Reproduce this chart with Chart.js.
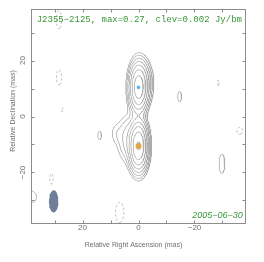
<!DOCTYPE html>
<html>
<head>
<meta charset="utf-8">
<script src="https://cdn.jsdelivr.net/npm/chart.js@4.4.1/dist/chart.umd.min.js"></script>
<style>
  html, body { margin: 0; padding: 0; background: #fff; }
  #wrap { width: 264px; height: 262px; }
</style>
</head>
<body>
<div id="wrap"><canvas id="vlbiMap" width="264" height="262"></canvas></div>
<script>
// ===== map data =====
const sourceName = 'J2355\u22122125';
const peakFlux = 0.27;
const lowestLevel = 0.002;
const obsDate = '2005\u221206\u221230';

// contour levels in Jy/beam, the negative one is dashed
const contourLevels = [-0.002, 0.002, 0.004, 0.008, 0.016, 0.032, 0.064, 0.128, 0.256];

// brightness components: RA / Dec offset (mas), peak (Jy/beam), gaussian widths (mas)
const compX    = [0.0,   0.0,   3.5,   8.0,  -1.5,   28.4,    28.4,    27.2,    13.9,   -14.7,  -28.5,   -36.2,   -29.8,  31.1,    38.5,   6.7];
const compY    = [10.4, -10.5, -8.0,  -6.0,  12.0,   34.5,    14.0,    2.4,     -6.8,   7.1,    12.0,    -5.1,    -16.9,  -22.3,   -28.7,  -34.3];
const compPeak = [0.20,  0.27,  0.012, 0.0025, 0.02, -0.0033, -0.0033, -0.0023, 0.0033, 0.0033, -0.0023, -0.0033, 0.0033, -0.0033, 0.0033, -0.0033];
const compSigX = [1.5,   1.5,   2.2,   1.5,   1.8,   0.9,     0.9,     0.5,     0.65,   0.7,    0.5,     1.0,     1.0,    0.6,     2.1,    1.5];
const compSigY = [4.0,   4.0,   4.5,   2.5,   4.0,   3.2,     2.7,     1.5,     1.5,    1.8,    2.0,     1.3,     3.4,    1.9,     2.1,    3.6];

// model-fit component markers
const markerX = [0.0, 0.0];
const markerY = [10.4, -10.5];
const markerColor = ['#5bb6ea', '#ffa500'];
const markerSize = [1.8, 3.0];

// restoring beam: centre (mas), FWHM major / minor (mas), position angle (deg)
const beamX = 30.3;
const beamY = -30.3;
const beamMajor = 7.9;
const beamMinor = 3.4;
const beamPA = 0;

// axes
const axisMin = -38.4;
const axisMax = 38.4;
const tickValues = [-30, -20, -10, 0, 10, 20, 30];
const tickLabels = [20, 0, -20];

// ===== brightness grid =====
function buildGrid() {
    const step = 0.25, x0 = -40, y0 = -40;
    const nx = Math.round(80 / step) + 1, ny = nx;
    const v = new Float64Array(nx * ny);
    for (let j = 0; j < ny; j++) {
        const y = y0 + j * step;
        for (let i = 0; i < nx; i++) {
            const x = x0 + i * step;
            let s = 0;
            for (let k = 0; k < compX.length; k++) {
                const dx = (x - compX[k]) / compSigX[k];
                const dy = (y - compY[k]) / compSigY[k];
                const r2 = dx * dx + dy * dy;
                if (r2 < 60) s += compPeak[k] * Math.exp(-0.5 * r2);
            }
            v[j * nx + i] = s;
        }
    }
    return { step, x0, y0, nx, ny, v };
}

// marching squares, joined into polylines
function traceContours(grid, level) {
    const { step, x0, y0, nx, ny, v } = grid;
    const nEdge = nx * ny;
    const px = new Float64Array(2 * nEdge);
    const py = new Float64Array(2 * nEdge);
    const link1 = new Int32Array(2 * nEdge).fill(-1);
    const link2 = new Int32Array(2 * nEdge).fill(-1);

    function edgePt(e, ia, ja, ib, jb) {
        const va = v[ja * nx + ia], vb = v[jb * nx + ib];
        const t = (level - va) / (vb - va);
        px[e] = x0 + (ia + t * (ib - ia)) * step;
        py[e] = y0 + (ja + t * (jb - ja)) * step;
    }
    function link(a, b) {
        if (link1[a] < 0) link1[a] = b; else link2[a] = b;
        if (link1[b] < 0) link1[b] = a; else link2[b] = a;
    }

    for (let j = 0; j < ny - 1; j++) {
        for (let i = 0; i < nx - 1; i++) {
            const a = v[j * nx + i], b = v[j * nx + i + 1];
            const c = v[(j + 1) * nx + i + 1], d = v[(j + 1) * nx + i];
            const A = a >= level, B = b >= level, C = c >= level, D = d >= level;
            const cut = [];
            if (A !== B) { const e = j * nx + i; edgePt(e, i, j, i + 1, j); cut.push(e); }
            if (B !== C) { const e = nEdge + j * nx + i + 1; edgePt(e, i + 1, j, i + 1, j + 1); cut.push(e); }
            if (D !== C) { const e = (j + 1) * nx + i; edgePt(e, i, j + 1, i + 1, j + 1); cut.push(e); }
            if (A !== D) { const e = nEdge + j * nx + i; edgePt(e, i, j, i, j + 1); cut.push(e); }
            if (cut.length === 2) {
                link(cut[0], cut[1]);
            } else if (cut.length === 4) {
                const mid = (a + b + c + d) / 4 >= level;
                if (mid === A) { link(cut[0], cut[1]); link(cut[2], cut[3]); }
                else { link(cut[0], cut[3]); link(cut[1], cut[2]); }
            }
        }
    }

    const used = new Uint8Array(2 * nEdge);
    const lines = [];
    function walk(start) {
        const pts = [];
        let cur = start, last = -1;
        while (cur >= 0 && !used[cur]) {
            used[cur] = 1;
            pts.push({ x: px[cur], y: py[cur] });
            last = cur;
            const n1 = link1[cur], n2 = link2[cur];
            cur = (n1 >= 0 && !used[n1]) ? n1 : ((n2 >= 0 && !used[n2]) ? n2 : -1);
        }
        if (pts.length > 2 && (link1[last] === start || link2[last] === start)) {
            pts.push({ x: px[start], y: py[start] });
        }
        if (pts.length > 1) lines.push(pts);
    }
    // open ends first, then closed loops
    for (let e = 0; e < 2 * nEdge; e++) {
        if (!used[e] && link1[e] >= 0 && link2[e] < 0) walk(e);
    }
    for (let e = 0; e < 2 * nEdge; e++) {
        if (!used[e] && link1[e] >= 0) walk(e);
    }
    return lines;
}

function beamOutline() {
    const pts = [];
    const pa = beamPA * Math.PI / 180;
    for (let k = 0; k <= 48; k++) {
        const t = k / 48 * 2 * Math.PI;
        const a = beamMinor / 2 * Math.cos(t), b = beamMajor / 2 * Math.sin(t);
        pts.push({ x: beamX + a * Math.cos(pa) + b * Math.sin(pa), y: beamY - a * Math.sin(pa) + b * Math.cos(pa) });
    }
    return pts;
}

// ===== frame, ticks and text =====
const mapFrame = {
    id: 'mapFrame',
    afterDraw(chart) {
        const ctx = chart.ctx;
        const area = chart.chartArea;
        const xs = chart.scales.x, ys = chart.scales.y;
        const L = Math.round(area.left) + 0.5, R = Math.round(area.right) - 0.5;
        const T = Math.round(area.top) + 0.5, B = Math.round(area.bottom) - 0.5;
        ctx.save();
        ctx.strokeStyle = '#8c8c8c';
        ctx.lineWidth = 1;
        ctx.strokeRect(L, T, R - L, B - T);

        // inward ticks on all four sides
        ctx.beginPath();
        tickValues.forEach(v => {
            const x = Math.round(xs.getPixelForValue(v)) + 0.5;
            ctx.moveTo(x, B); ctx.lineTo(x, B - 3);
            ctx.moveTo(x, T); ctx.lineTo(x, T + 3);
            const y = Math.round(ys.getPixelForValue(v)) + 0.5;
            ctx.moveTo(L, y); ctx.lineTo(L + 3, y);
            ctx.moveTo(R, y); ctx.lineTo(R - 3, y);
        });
        ctx.stroke();

        ctx.fillStyle = '#6e6e6e';
        ctx.font = '8px "Liberation Sans", Arial, sans-serif';
        ctx.textAlign = 'center';
        ctx.textBaseline = 'middle';
        tickLabels.forEach(v => {
            const txt = v < 0 ? '\u2212' + Math.abs(v) : String(v);
            ctx.fillText(txt, xs.getPixelForValue(v), 228);
            ctx.save();
            ctx.translate(23, ys.getPixelForValue(v));
            ctx.rotate(-Math.PI / 2);
            ctx.fillText(txt, 0, 0);
            ctx.restore();
        });

        ctx.font = '7px "Liberation Sans", Arial, sans-serif';
        ctx.fillText('Relative Right Ascension (mas)', 133.5, 245);
        ctx.save();
        ctx.translate(13.5, 111);
        ctx.rotate(-Math.PI / 2);
        ctx.fillText('Relative Declination (mas)', 0, 0);
        ctx.restore();

        ctx.fillStyle = '#3a963a';
        ctx.textAlign = 'left';
        ctx.font = '9px "Liberation Mono", monospace';
        ctx.fillText(sourceName + ', max=' + peakFlux + ', clev=' + lowestLevel + ' Jy/bm', 36.7, 19.5);
        ctx.textAlign = 'right';
        ctx.font = 'italic 9px "Liberation Sans", Arial, sans-serif';
        ctx.fillText(obsDate, 242.7, 215);
        ctx.restore();
    }
};

document.addEventListener('DOMContentLoaded', function() {
    const grid = buildGrid();
    const datasets = [];

    // restoring beam
    datasets.push({
        data: beamOutline(),
        showLine: true,
        pointRadius: 0,
        borderWidth: 0,
        borderColor: '#6f7f98',
        backgroundColor: '#6f7f98',
        fill: 'shape'
    });

    contourLevels.forEach(level => {
        traceContours(grid, level).forEach(line => {
            datasets.push({
                data: line,
                showLine: true,
                pointRadius: 0,
                borderColor: '#ababab',
                borderWidth: 0.8,
                borderDash: level < 0 ? [2.5, 2] : [],
                fill: false,
                tension: 0
            });
        });
    });

    // component markers on top
    datasets.push({
        data: markerX.map((x, i) => ({ x: x, y: markerY[i] })),
        showLine: false,
        pointRadius: markerSize,
        pointBackgroundColor: markerColor,
        pointBorderWidth: 0
    });

    new Chart(document.getElementById('vlbiMap'), {
        type: 'scatter',
        data: { datasets: datasets },
        options: {
            responsive: false,
            animation: false,
            events: [],
            layout: { padding: { left: 31, right: 18, top: 9, bottom: 38 } },
            plugins: { legend: { display: false }, tooltip: { enabled: false } },
            scales: {
                x: { type: 'linear', min: axisMin, max: axisMax, reverse: true, display: false },
                y: { type: 'linear', min: axisMin, max: axisMax, display: false }
            }
        },
        plugins: [mapFrame]
    });
});
</script>
</body>
</html>
